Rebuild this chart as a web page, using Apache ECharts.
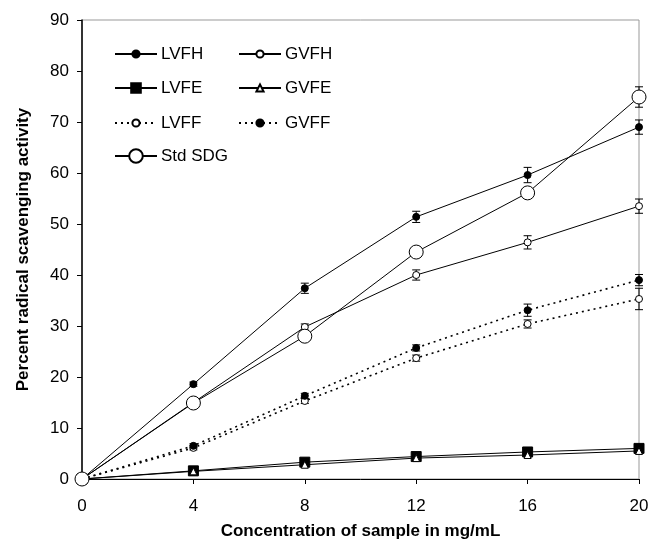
<!DOCTYPE html>
<html>
<head>
<meta charset="utf-8">
<title>Radical scavenging</title>
<script src="https://cdn.jsdelivr.net/npm/echarts@6/dist/echarts.min.js"></script>
<style>
  html, body { margin: 0; padding: 0; background: #fff; }
  #chart { width: 649px; height: 542px; }
</style>
</head>
<body>
<div id="chart"></div>
<script>
// concentration (mg/mL)
var conc = [0, 4, 8, 12, 16, 20];
var yTicks = [0, 10, 20, 30, 40, 50, 60, 70, 80, 90];

// percent scavenging + SD
var LVFH = [0, 18.6, 37.4, 51.4, 59.6, 69.0];
var LVFH_err = [0, 0.4, 1.0, 1.1, 1.5, 1.4];
var GVFH = [0, 15.0, 29.8, 40.0, 46.4, 53.5];
var GVFH_err = [0, 0.3, 0.6, 1.0, 1.3, 1.4];
var LVFE = [0, 1.6, 3.3, 4.4, 5.3, 6.0];
var LVFE_err = [0, 0.3, 0.4, 0.4, 0.4, 0.5];
var GVFE = [0, 1.5, 2.8, 4.1, 4.7, 5.5];
var GVFE_err = [0, 0.3, 0.3, 0.4, 0.4, 0.4];
var LVFF = [0, 6.1, 15.3, 23.7, 30.4, 35.3];
var LVFF_err = [0, 0.4, 0.5, 0.6, 0.8, 2.1];
var GVFF = [0, 6.5, 16.3, 25.7, 33.1, 39.0];
var GVFF_err = [0, 0.4, 0.5, 0.6, 1.2, 1.1];
var STD = [0, 14.9, 28.0, 44.5, 56.1, 74.9];
var STD_err = [0, 0.3, 0.5, 0.6, 1.0, 2.0];

var chart = echarts.init(document.getElementById('chart'));
var FONT = '"Liberation Sans", Arial, sans-serif';

function pairs(ys) {
    return conc.map(function (x, i) { return [x, ys[i]]; });
}
function errData(ys, es) {
    return conc.map(function (x, i) { return [x, ys[i], es[i]]; });
}

function lineSeries(name, ys, symbol, size, fill, dotted) {
    return {
        name: name,
        type: 'line',
        data: pairs(ys),
        symbol: symbol,
        symbolSize: size,
        showAllSymbol: true,
        z: 3,
        lineStyle: { color: '#000', width: dotted ? 1.6 : 1, type: dotted ? [2, 4] : 'solid' },
        itemStyle: { color: fill, borderColor: '#000', borderWidth: 1 },
        emphasis: { disabled: true },
        animation: false
    };
}

function errSeries(ys, es) {
    return {
        type: 'custom',
        z: 2,
        silent: true,
        animation: false,
        data: errData(ys, es),
        renderItem: function (params, api) {
            var e = api.value(2);
            if (!e) return;
            var x = api.value(0), y = api.value(1);
            var hi = api.coord([x, y + e]);
            var lo = api.coord([x, y - e]);
            var w = 4;
            var st = { stroke: '#000', lineWidth: 1 };
            return {
                type: 'group',
                children: [
                    { type: 'line', shape: { x1: hi[0], y1: hi[1], x2: lo[0], y2: lo[1] }, style: st },
                    { type: 'line', shape: { x1: hi[0] - w, y1: hi[1], x2: hi[0] + w, y2: hi[1] }, style: st },
                    { type: 'line', shape: { x1: lo[0] - w, y1: lo[1], x2: lo[0] + w, y2: lo[1] }, style: st }
                ]
            };
        }
    };
}

// one legend box per entry so the two columns line up like the original
function legendItem(name, left, rowY, h) {
    return {
        data: [name],
        left: left,
        top: rowY - Math.max(h, 17) / 2,
        itemWidth: 42,
        itemHeight: h,
        itemGap: 0,
        selectedMode: false,
        textStyle: { fontFamily: FONT, fontSize: 17, color: '#000', padding: [0, 0, 0, -1] },
        padding: 0
    };
}

var option = {
    animation: false,
    grid: {
        left: 82, right: 10, top: 20, bottom: 63,
        outerBoundsMode: 'none', containLabel: false,
        show: true, borderColor: '#999', borderWidth: 1
    },
    legend: [
        legendItem('LVFH', 114, 54, 9),
        legendItem('LVFE', 114, 88, 12),
        legendItem('LVFF', 114, 123, 9),
        legendItem('Std SDG', 114, 156, 17),
        legendItem('GVFH', 238, 54, 9),
        legendItem('GVFE', 238, 88, 9),
        legendItem('GVFF', 238, 123, 9)
    ],
    xAxis: {
        type: 'value',
        min: 0, max: 20, interval: 4,
        name: 'Concentration of sample in mg/mL',
        nameLocation: 'middle',
        nameGap: 44,
        nameTextStyle: { fontFamily: FONT, fontSize: 17, fontWeight: 'bold', color: '#000' },
        axisLine: { lineStyle: { color: '#000', width: 1 } },
        axisTick: { length: 5, lineStyle: { color: '#000' } },
        axisLabel: { fontFamily: FONT, fontSize: 17, color: '#000', margin: 19 },
        splitLine: { show: false }
    },
    yAxis: {
        type: 'value',
        min: 0, max: 90, interval: 10,
        name: 'Percent radical scavenging activity',
        nameLocation: 'middle',
        nameGap: 50,
        nameTextStyle: { fontFamily: FONT, fontSize: 17, fontWeight: 'bold', color: '#000' },
        axisLine: { show: true, lineStyle: { color: '#000', width: 1.5 } },
        axisTick: { show: true, length: 5, lineStyle: { color: '#000' } },
        axisLabel: { fontFamily: FONT, fontSize: 17, color: '#000', margin: 13,
            formatter: function (v) { return yTicks.indexOf(v) >= 0 ? v : ''; } },
        splitLine: { show: false }
    },
    series: [
        errSeries(LVFH, LVFH_err),
        errSeries(GVFH, GVFH_err),
        errSeries(LVFE, LVFE_err),
        errSeries(GVFE, GVFE_err),
        errSeries(LVFF, LVFF_err),
        errSeries(GVFF, GVFF_err),
        errSeries(STD, STD_err),
        lineSeries('LVFE', LVFE, 'rect', 10, '#000', false),
        lineSeries('GVFE', GVFE, 'triangle', 7, '#fff', false),
        lineSeries('LVFF', LVFF, 'circle', 7, '#fff', true),
        lineSeries('GVFF', GVFF, 'circle', 7, '#000', true),
        lineSeries('GVFH', GVFH, 'circle', 7, '#fff', false),
        lineSeries('LVFH', LVFH, 'circle', 7, '#000', false),
        lineSeries('Std SDG', STD, 'circle', 14, '#fff', false)
    ]
};

chart.setOption(option);
</script>
</body>
</html>
